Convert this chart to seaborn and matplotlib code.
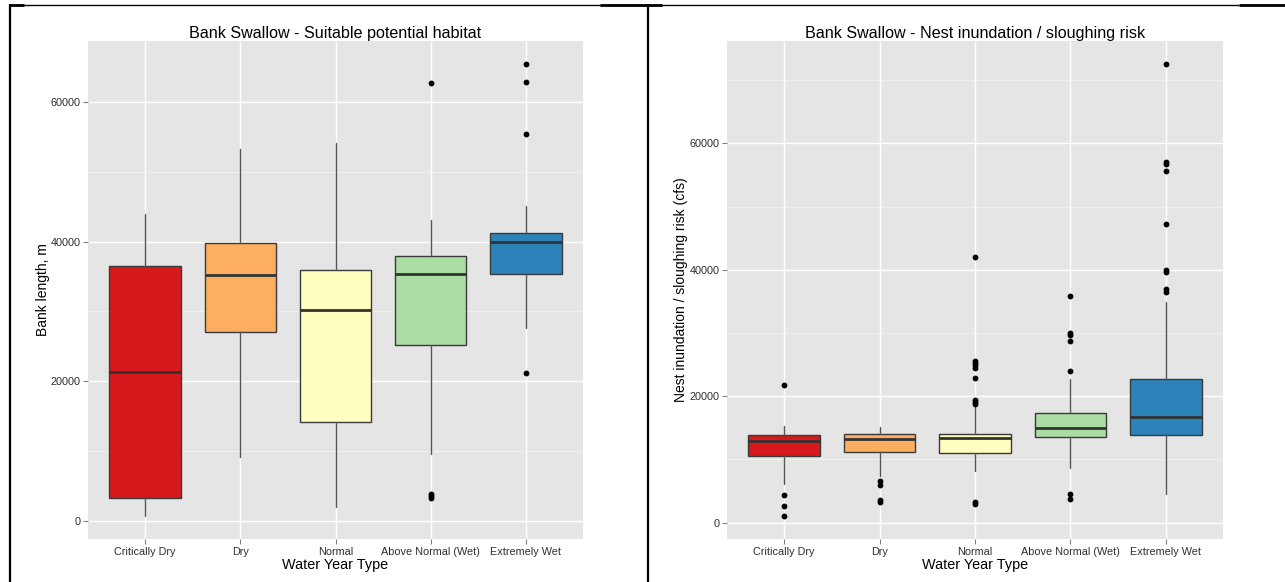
import matplotlib
matplotlib.use("Agg")
import matplotlib.pyplot as plt
from matplotlib.lines import Line2D
from matplotlib.ticker import MultipleLocator
import pandas as pd
import seaborn as sns

# ---- data -------------------------------------------------------------
categories = ["Critically Dry", "Dry", "Normal", "Above Normal (Wet)", "Extremely Wet"]
palette = ["#D7191C", "#FDAE61", "#FFFFBF", "#ABDDA4", "#2B83BA"]

# Suitable potential habitat (bank length, m)
hab_whislo = [700, 9200, 2050, 9600, 27600]
hab_q1 = [3250, 27100, 14130, 25240, 35320]
hab_med = [21330, 35180, 30200, 35400, 39940]
hab_q3 = [36460, 39850, 35930, 37940, 41190]
hab_whishi = [43950, 53200, 54100, 43050, 45100]
hab_outliers = [
    [],
    [],
    [],
    [3300, 3600, 3900, 62660],
    [21230, 55400, 62850, 65380],
]

# Nest inundation / sloughing risk (cfs)
nest_whislo = [6060, 7380, 8170, 8640, 4590]
nest_q1 = [10500, 11240, 10970, 13610, 13930]
nest_med = [12870, 13190, 13450, 14980, 16670]
nest_q3 = [13820, 14030, 14090, 17410, 22790]
nest_whishi = [15290, 15100, 18300, 22790, 34870]
nest_outliers = [
    [1050, 2580, 4320, 21740],
    [3260, 3640, 6010, 6540],
    [2900, 3260, 18800, 19100, 19400, 22890, 24400, 24900, 25200, 25500, 41950],
    [3740, 4590, 23950, 28700, 29650, 30010, 35830],
    [36500, 37000, 39600, 40000, 47200, 55700, 56700, 57000, 72500],
]

y_ticks = [0, 20000, 40000, 60000]

# ---- style ------------------------------------------------------------
sns.set_theme(style="darkgrid", rc={
    "axes.facecolor": "#E5E5E5",
    "grid.color": "white",
    "grid.linewidth": 1.0,
    "axes.edgecolor": "none",
    "xtick.bottom": True,
    "ytick.left": True,
    "xtick.major.size": 3.5,
    "ytick.major.size": 3.5,
    "xtick.major.width": 0.8,
    "ytick.major.width": 0.8,
    "xtick.color": "#7F7F7F",
    "ytick.color": "#7F7F7F",
    "xtick.labelcolor": "#2E2E2E",
    "ytick.labelcolor": "#2E2E2E",
    "xtick.major.pad": 2,
    "ytick.major.pad": 2,
})
plt.rcParams["font.family"] = ["Liberation Sans", "DejaVu Sans"]

fig = plt.figure(figsize=(12.85, 5.82), dpi=100)
W, H = 1285, 582


def panel(rect, title, ylabel, whislo, q1, med, q3, whishi, outliers, ylim, labelpad):
    ax = fig.add_axes(rect)

    # outlying points through seaborn's categorical axis
    rows = [(c, v) for c, vals in zip(categories, outliers) for v in vals]
    df = pd.DataFrame(rows, columns=["category", "value"])
    sns.stripplot(data=df, x="category", y="value", order=categories,
                  jitter=False, color="black", size=4.2, linewidth=0,
                  zorder=4, ax=ax)

    stats = [
        dict(whislo=lo, q1=a, med=m, q3=b, whishi=hi, fliers=[], label=c)
        for c, lo, a, m, b, hi in zip(categories, whislo, q1, med, q3, whishi)
    ]
    bp = ax.bxp(stats, positions=range(len(categories)), widths=0.75,
                patch_artist=True, showfliers=False, showcaps=False,
                manage_ticks=False,
                boxprops=dict(edgecolor="#3A3A3A", linewidth=1.0),
                medianprops=dict(color="#333333", linewidth=2.0),
                whiskerprops=dict(color="#555555", linewidth=1.0))
    for patch, col in zip(bp["boxes"], palette):
        patch.set_facecolor(col)
        patch.set_zorder(3)
    for line in bp["medians"] + bp["whiskers"]:
        line.set_zorder(3)

    ax.set_xlim(-0.6, len(categories) - 0.4)
    ax.set_ylim(*ylim)
    ax.set_yticks(y_ticks)
    ax.set_yticklabels([str(t) for t in y_ticks], fontsize=7.8)
    ax.set_xticks(range(len(categories)))
    ax.set_xticklabels(categories, fontsize=7.8)
    ax.yaxis.set_minor_locator(MultipleLocator(10000))
    ax.grid(which="major", color="white", linewidth=1.0)
    ax.grid(which="minor", axis="y", color="#F2F2F2", linewidth=0.6)
    ax.tick_params(which="minor", length=0)
    ax.set_axisbelow(True)

    ax.set_title(title, fontsize=11.6, color="black", pad=2)
    ax.set_xlabel("Water Year Type", fontsize=10.4, color="black", labelpad=1)
    ax.set_ylabel(ylabel, fontsize=10, color="black", labelpad=labelpad)
    return ax


bottom = 1 - 539 / H
height = (539 - 41) / H

panel([88 / W, bottom, 495 / W, height],
      "Bank Swallow - Suitable potential habitat", "Bank length, m",
      hab_whislo, hab_q1, hab_med, hab_q3, hab_whishi, hab_outliers,
      (-2580, 68720), 0)

panel([727 / W, bottom, 496 / W, height],
      "Bank Swallow - Nest inundation / sloughing risk",
      "Nest inundation / sloughing risk (cfs)",
      nest_whislo, nest_q1, nest_med, nest_q3, nest_whishi, nest_outliers,
      (-2600, 76190), 1)


# ---- surrounding table rules ------------------------------------------
def rule(x0, y0, x1, y1, lw):
    fig.add_artist(Line2D([x0 / W, x1 / W], [1 - y0 / H, 1 - y1 / H],
                          color="black", linewidth=lw,
                          transform=fig.transFigure, solid_capstyle="butt"))


rule(10, 4.5, 1239, 4.5, 1.0)
rule(10, 5, 24, 5, 2.0)
rule(600, 5, 662, 5, 2.0)
rule(1239, 5, 1285, 5, 2.0)
rule(10, 4, 10, 582, 1.6)
rule(648, 4, 648, 582, 1.6)

fig.savefig("out.png", dpi=100)
